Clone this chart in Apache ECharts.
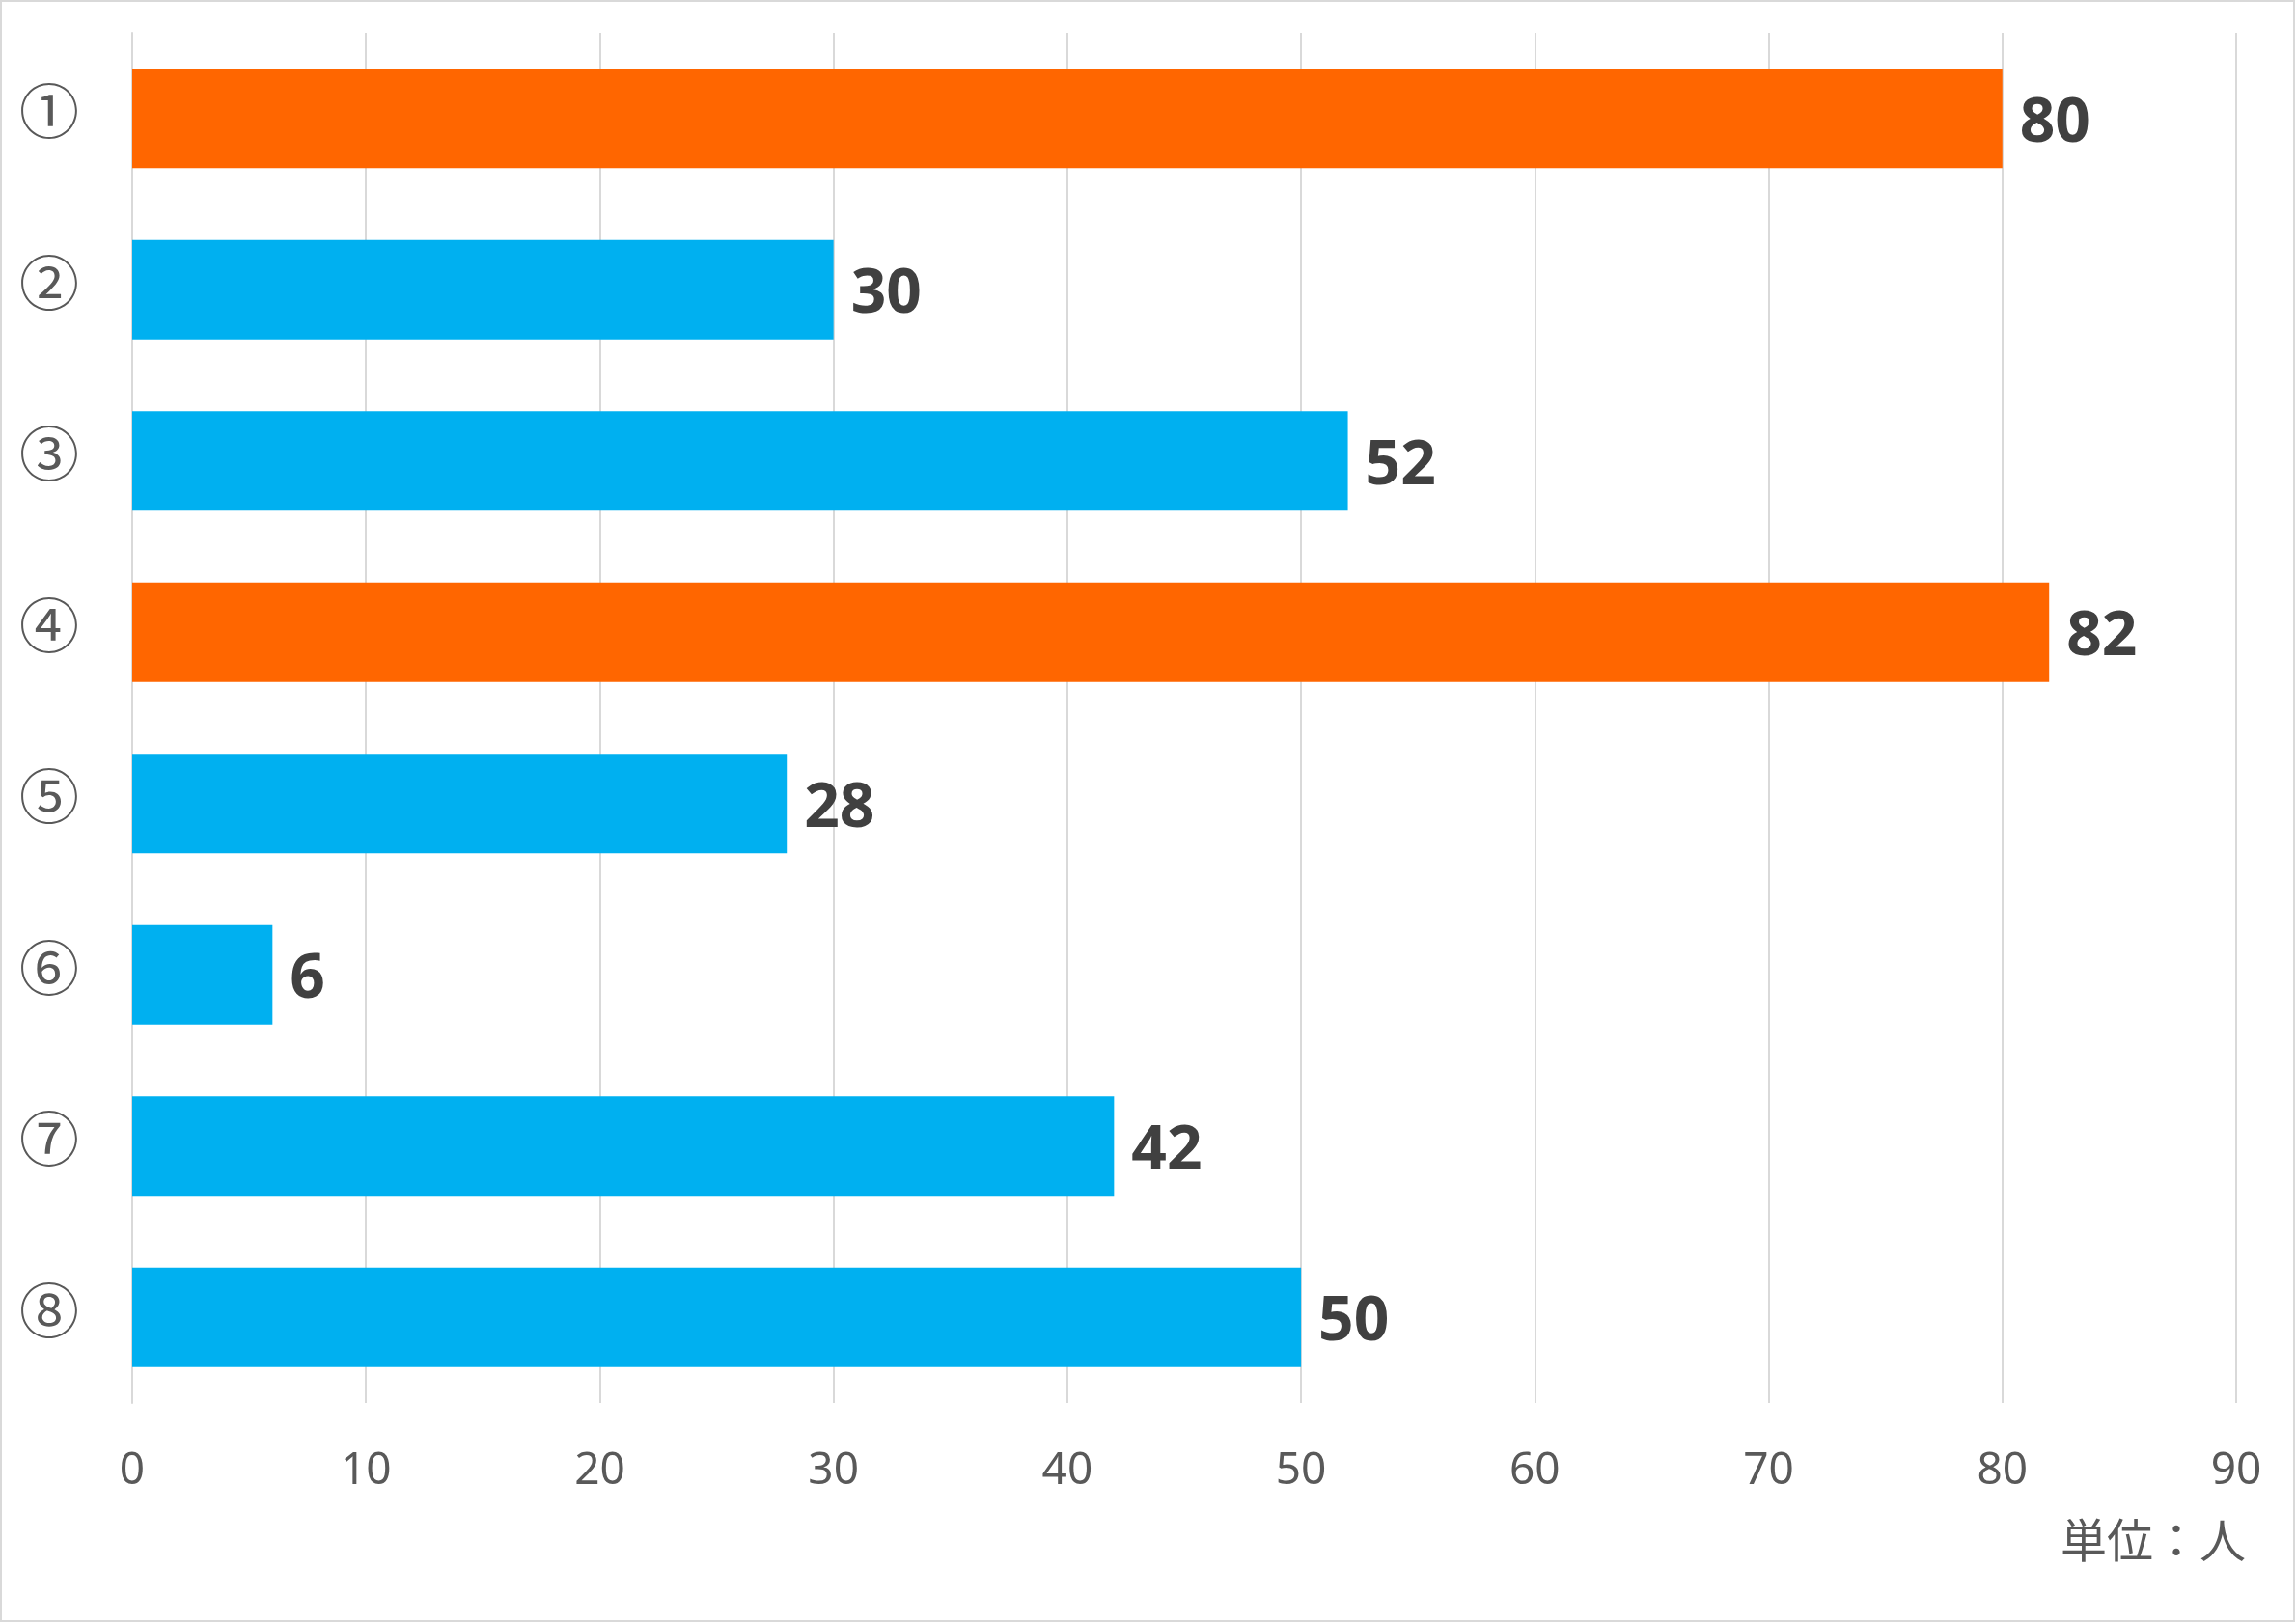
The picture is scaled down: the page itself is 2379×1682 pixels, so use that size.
<!DOCTYPE html>
<html><head><meta charset="utf-8">
<script src="https://cdn.jsdelivr.net/npm/echarts@6/dist/echarts.min.js"></script>
<style>html,body{margin:0;padding:0;background:#fff}#c{width:2379px;height:1682px}</style>
</head><body><div id="c"></div>
<script>
const categories = ['①','②','③','④','⑤','⑥','⑦','⑧'];
const values = [80, 30, 52, 82, 28, 6, 42, 50];
const highlighted = [true, false, false, true, false, false, false, false];
const xTicks = [0, 10, 20, 30, 40, 50, 60, 70, 80, 90];
const unitLabel = '単位：人';

const ORANGE = '#FF6600', BLUE = '#00B0F0';
const chart = echarts.init(document.getElementById('c'), null, {renderer: 'canvas'});
chart.setOption({
  backgroundColor: '#fff',
  animation: false,
  grid: {left: 137, right: 62, top: 34, bottom: 228, containLabel: false},
  xAxis: {
    type: 'value', min: xTicks[0], max: xTicks[xTicks.length - 1], interval: 10,
    axisLine: {show: false}, axisTick: {show: false},
    splitLine: {show: true, lineStyle: {color: '#d9d9d9', width: 2}},
    axisLabel: {color: '#595959', fontSize: 46, fontFamily: 'Noto Sans', margin: 48}
  },
  yAxis: {
    type: 'category', data: categories, inverse: true,
    axisLine: {show: true, lineStyle: {color: '#d9d9d9', width: 2}},
    axisTick: {show: false},
    axisLabel: {
      margin: 55,
      formatter: v => '{c|' + v + '}',
      rich: {c: {color: '#595959', fontSize: 62, fontFamily: 'Noto Sans CJK JP',
                 lineHeight: 62, padding: [0, 0, 14, 0]}}
    }
  },
  series: [{
    type: 'bar',
    barCategoryGap: '42%',
    data: values.map((v, i) => ({value: v, itemStyle: {color: highlighted[i] ? ORANGE : BLUE}})),
    label: {
      show: true, position: 'right', distance: 18, offset: [0, 6],
      color: '#404040', fontSize: 64, fontWeight: 'bold', fontFamily: 'Open Sans'
    }
  }],
  graphic: [
    {type: 'rect', shape: {x: 1, y: 1, width: 2376, height: 1679},
     style: {fill: 'none', stroke: '#d9d9d9', lineWidth: 2}, silent: true},
    {type: 'text', right: 52, top: 1572,
     style: {text: unitLabel, fill: '#595959', fontSize: 48, fontFamily: 'Noto Sans CJK JP'}}
  ]
});
</script></body></html>
